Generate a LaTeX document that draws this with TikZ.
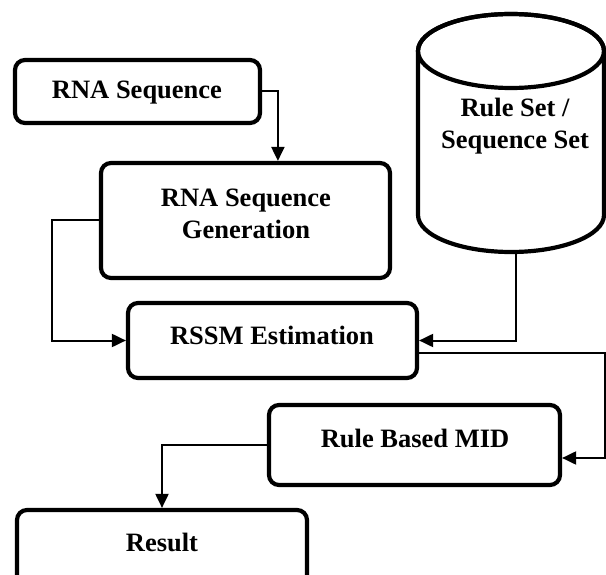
\documentclass[tikz,border=0pt]{standalone}
\usepackage{fontspec}
\setmainfont{Liberation Serif}
\usetikzlibrary{arrows.meta}
\begin{document}
\begin{tikzpicture}[x=1pt,y=1pt,
  box/.style={draw=black, line width=4.2pt, rounded corners=10pt, fill=white, inner sep=0pt},
  lbl/.style={font=\fontsize{26.5}{32}\selectfont\bfseries, align=center, inner sep=0pt},
  conn/.style={draw=black, line width=2pt},
  arr/.style={conn, -{Triangle[length=14pt,width=13pt]}}]
\clip (0,0) rectangle (606,-575);
\useasboundingbox (0,0) rectangle (606,-575);
% boxes
\node[box, minimum width=245pt, minimum height=63pt] (rna) at (137.5,-91.5) {};
\node[lbl] (rnat) at (137,-93) {RNA Sequence};
\node[box, minimum width=289pt, minimum height=115pt] (gen) at (245.5,-220.5) {};
\node[lbl] (gent) at (246,-214) {RNA Sequence\\Generation};
\node[box, minimum width=289pt, minimum height=75pt] (rssm) at (272.5,-340.5) {};
\node[lbl] (rssmt) at (272,-335) {RSSM Estimation};
\node[box, minimum width=291pt, minimum height=80pt] (rule) at (414.5,-445) {};
\node[lbl] (rulet) at (415,-438) {Rule Based MID};
\node[box, minimum width=290pt, minimum height=90pt] (result) at (162,-555) {};
\node[lbl] (resultt) at (162,-542) {Result};
% cylinder
\draw[line width=4.2pt, fill=white] (418,-51) -- (418,-215) arc[start angle=180, end angle=360, x radius=93, y radius=37] -- (604,-51) arc[start angle=0, end angle=180, x radius=93, y radius=37] -- cycle;
\draw[line width=4.2pt] (511,-51) ellipse[x radius=93, y radius=37];
\node[lbl] (db) at (515,-126) {Rule Set /\\Sequence Set};
\coordinate (dbbot) at (516,-253);
% connectors
\coordinate (genin) at ([xshift=179pt]gen.north west);
\draw[arr] (rna.east) -| (genin);
\draw[arr] (gen.west) -- ++(-47,0) |- (rssm.west);
\draw[arr] (dbbot) |- (rssm.east);
\coordinate (rssmout) at ([yshift=-12.5pt]rssm.east);
\coordinate (rulein) at ([yshift=-13pt]rule.east);
\draw[arr] (rssmout) -- (604.5,-353) |- (rulein);
\draw[arr] (rule.west) -| (result.north);
\end{tikzpicture}
\end{document}
